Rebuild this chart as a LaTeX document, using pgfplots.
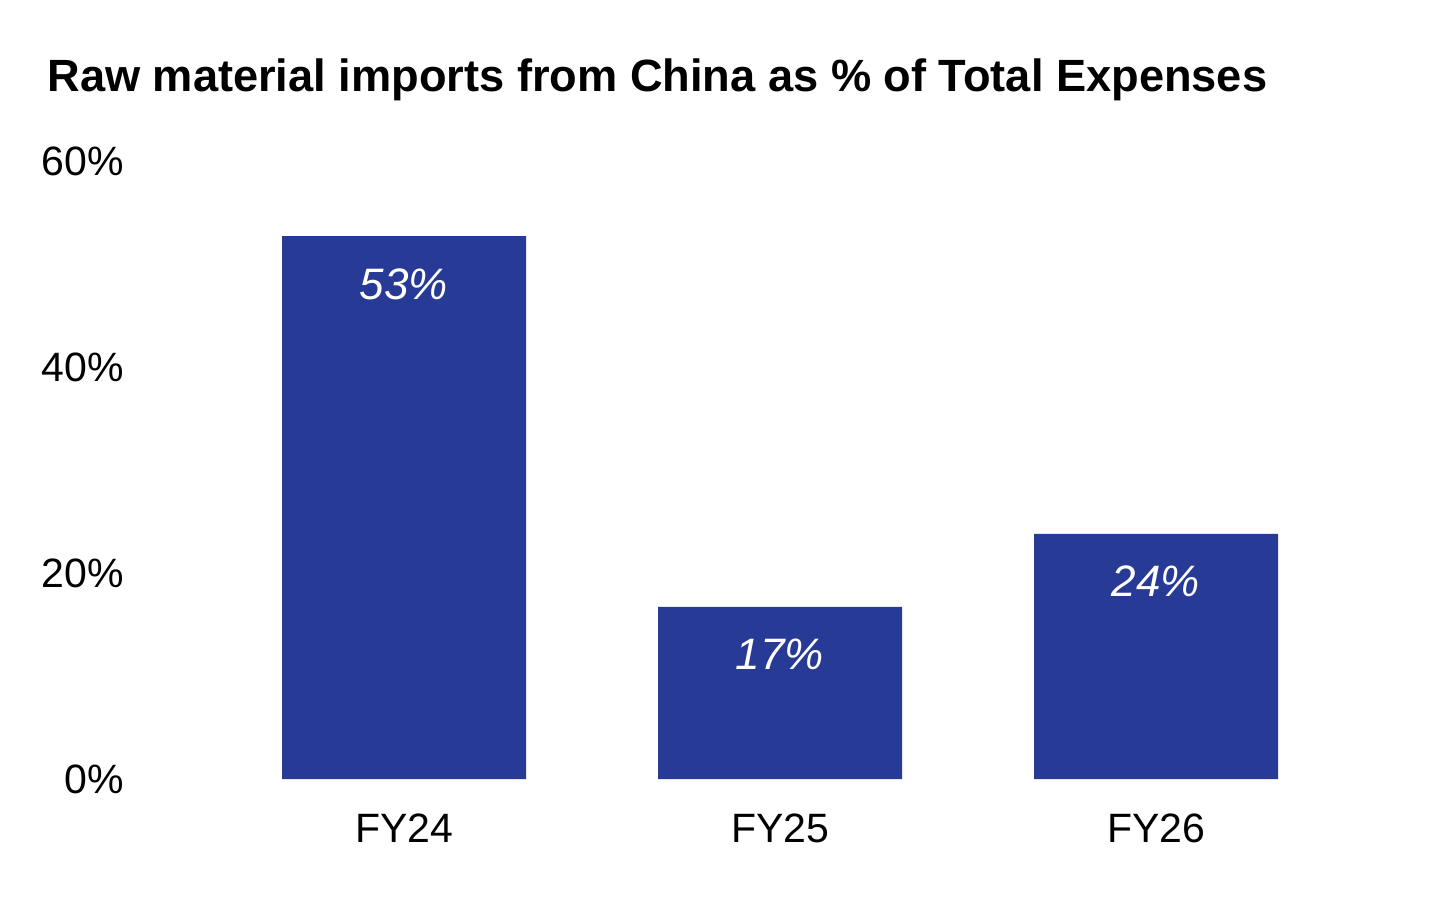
\documentclass[border=0pt]{standalone}
\usepackage{pgfplots}
\pgfplotsset{compat=1.18}
\usepackage{fontspec}
\setmainfont{Liberation Sans}
\definecolor{barblue}{HTML}{273A96}
\begin{document}
\begin{tikzpicture}[x=1pt,y=1pt]
\useasboundingbox (0,0) rectangle (728,450);
\node[anchor=base west, inner sep=0pt, font=\bfseries\fontsize{22.6}{25}\selectfont] at (23.5,404) {Raw material imports from China as \% of Total Expenses};
\begin{axis}[
  at={(61pt,60.5pt)}, anchor=south west,
  scale only axis, width=658pt, height=309pt,
  xmin=-0.75, xmax=2.75, ymin=0, ymax=60,
  axis line style={draw=none}, tick style={draw=none},
  ybar, bar width=122pt,
  xtick={0,1,2}, xticklabels={FY24,FY25,FY26},
  ytick={0,20,40,60},
  yticklabel={\pgfmathprintnumber{\tick}\%},
  /pgf/number format/assume math mode=true,
  ticklabel style={font=\fontsize{20.5}{24}\selectfont},
  yticklabel style={anchor=east, inner sep=0pt, xshift=1pt},
  xticklabel style={anchor=north, inner sep=0pt, yshift=-13pt},
  point meta=explicit symbolic,
  nodes near coords={\pgfplotspointmeta},
  nodes near coords style={anchor=north, inner sep=0pt, yshift=-16pt, text=white, font=\itshape\fontsize{22}{24}\selectfont},
  clip=false,
]
\addplot[fill=barblue, draw=none, bar shift=0pt] coordinates {(0,52.7) [53\%] (1,16.7) [17\%] (2,23.8) [24\%]};
\end{axis}
\end{tikzpicture}
\end{document}
